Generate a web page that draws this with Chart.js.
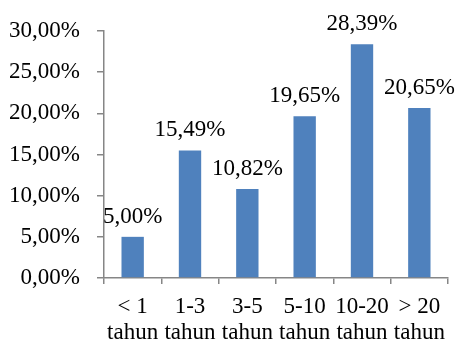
<!DOCTYPE html>
<html>
<head>
<meta charset="utf-8">
<script src="https://cdn.jsdelivr.net/npm/chart.js@4/dist/chart.umd.min.js"></script>
<style>
  html, body { margin: 0; padding: 0; background: #ffffff; }
  #wrap { width: 456px; height: 345px; position: relative; }
</style>
</head>
<body>
<div id="wrap"><canvas id="c" width="456" height="345"></canvas></div>
<script>
// Masa kerja (lama bekerja) per kelompok tahun
const categories = [['< 1', 'tahun'], ['1-3', 'tahun'], ['3-5', 'tahun'], ['5-10', 'tahun'], ['10-20', 'tahun'], ['> 20', 'tahun']];
const percentages = [5.00, 15.49, 10.82, 19.65, 28.39, 20.65];
const yTicks = [0, 5, 10, 15, 20, 25, 30];

const FONT = '"Liberation Serif", "Times New Roman", serif';
const FONT_SIZE = 23;
const AXIS_GREY = '#868686';

const fmt = v => v.toFixed(2).replace('.', ',') + '%';

// Writes the percentage above each bar
const valueLabels = {
  id: 'valueLabels',
  afterDatasetsDraw(chart) {
    const ctx = chart.ctx;
    const meta = chart.getDatasetMeta(0);
    ctx.save();
    ctx.font = FONT_SIZE + 'px ' + FONT;
    ctx.fillStyle = '#000000';
    ctx.textAlign = 'center';
    ctx.textBaseline = 'alphabetic';
    meta.data.forEach((bar, i) => {
      ctx.fillText(fmt(percentages[i]), bar.x, bar.y - 14);
    });
    ctx.restore();
  }
};

new Chart(document.getElementById('c'), {
  type: 'bar',
  data: {
    labels: categories,
    datasets: [{
      data: percentages,
      backgroundColor: '#4f81bd',
      borderWidth: 0,
      categoryPercentage: 1.0,
      barPercentage: 0.39
    }]
  },
  options: {
    responsive: false,
    animation: false,
    devicePixelRatio: 1,
    layout: { padding: { top: 31, right: 8, bottom: 0, left: 0 } },
    plugins: { legend: { display: false }, tooltip: { enabled: false } },
    scales: {
      x: {
        grid: {
          display: true,
          drawOnChartArea: false,
          drawTicks: true,
          tickLength: 6,
          color: AXIS_GREY,
          lineWidth: 1.5
        },
        border: { color: AXIS_GREY, width: 1.5 },
        ticks: {
          color: '#000000',
          font: { family: FONT, size: FONT_SIZE, lineHeight: 1.13 },
          padding: 10,
          maxRotation: 0,
          autoSkip: false
        },
        afterFit(scale) { scale.height = 67; }
      },
      y: {
        min: 0,
        max: 30,
        afterBuildTicks(scale) { scale.ticks = yTicks.map(v => ({ value: v })); },
        grid: {
          display: true,
          drawOnChartArea: false,
          drawTicks: true,
          tickLength: 7,
          color: AXIS_GREY,
          lineWidth: 1.5
        },
        border: { color: AXIS_GREY, width: 1.5 },
        ticks: {
          color: '#000000',
          font: { family: FONT, size: FONT_SIZE },
          padding: 17,
          callback: v => fmt(v)
        },
        afterFit(scale) { scale.width = 104; }
      }
    }
  },
  plugins: [valueLabels]
});
</script>
</body>
</html>
